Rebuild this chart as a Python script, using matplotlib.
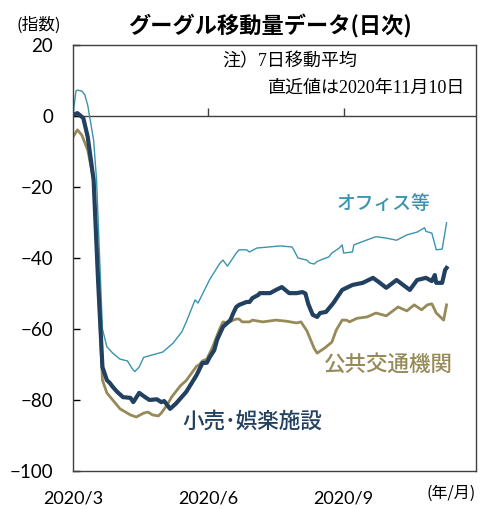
import numpy as np
import pandas as pd
import matplotlib
matplotlib.use("Agg")
import matplotlib.pyplot as plt

plt.rcParams['font.family'] = ['Lato', 'Noto Sans CJK JP', 'DejaVu Sans']

# days since 2020-03-01, 7-day moving average of the mobility index
office_days = [0, 2, 3, 6, 8, 10, 14, 16, 20, 23, 27, 32, 37, 40, 42, 45, 48, 54, 61, 68, 74, 77,
               83, 85, 93, 100, 102, 105, 111, 113, 118, 120, 125, 141, 149, 153, 159, 161, 164,
               166, 170, 174, 176, 181, 183, 184, 190, 191, 200, 206, 213, 220, 227, 234, 239,
               240, 244, 247, 251, 254]
office = [0.5, 7.0, 7.3, 7.0, 6.0, 3.0, -6.8, -18.0, -60.0, -65.0, -66.8, -68.5, -69.0, -71.0,
          -72.0, -70.7, -68.0, -67.3, -66.5, -64.0, -60.8, -58.0, -51.8, -52.7, -46.0, -41.4,
          -40.6, -42.3, -38.6, -37.7, -37.7, -38.3, -37.2, -36.6, -36.9, -40.0, -40.6, -41.4,
          -41.7, -41.0, -40.3, -39.7, -38.6, -37.2, -36.3, -38.6, -38.3, -36.3, -34.9, -34.0,
          -34.4, -35.0, -33.5, -32.7, -31.5, -32.5, -33.0, -37.7, -37.5, -30.1]

retail_days = [0, 3, 7, 10, 14, 17, 20, 23, 25, 27, 30, 34, 39, 41, 45, 49, 52, 57, 60, 62, 66,
               70, 77, 84, 88, 91, 93, 96, 98, 102, 107, 109, 111, 113, 118, 120, 122, 126, 127,
               134, 138, 142, 147, 152, 156, 158, 160, 163, 166, 168, 172, 177, 183, 190, 197,
               204, 208, 213, 220, 229, 234, 240, 244, 246, 247, 251, 253, 254]
retail = [0.3, 0.8, -0.6, -5.9, -18.0, -46.0, -70.7, -74.4, -75.2, -76.3, -77.7, -79.2, -79.4,
          -80.6, -78.0, -79.2, -80.0, -79.8, -80.6, -80.3, -82.5, -81.0, -77.7, -73.0, -69.6,
          -69.5, -67.9, -66.0, -63.0, -59.4, -57.5, -55.5, -53.8, -53.2, -52.4, -52.4, -51.3,
          -50.4, -49.9, -49.9, -49.0, -48.2, -49.9, -49.9, -49.6, -50.0, -53.0, -56.0, -56.6,
          -55.5, -55.2, -52.7, -49.0, -47.6, -47.0, -45.6, -46.8, -48.4, -46.2, -49.0, -46.2,
          -45.6, -46.5, -44.8, -47.0, -47.0, -43.4, -42.8]

transit_days = [0, 3, 6, 10, 14, 17, 20, 23, 25, 27, 32, 39, 43, 48, 51, 54, 58, 60, 64, 67, 73,
                77, 80, 84, 86, 88, 91, 95, 100, 102, 105, 109, 111, 113, 115, 120, 122, 129, 138,
                145, 152, 155, 159, 162, 164, 166, 171, 176, 179, 183, 186, 188, 193, 200, 206,
                213, 221, 227, 232, 237, 241, 244, 247, 252, 254]
transit = [-5.9, -3.9, -5.4, -9.6, -18.0, -46.0, -74.4, -78.0, -79.0, -80.0, -82.5, -84.2, -84.8,
           -83.7, -83.4, -84.2, -84.5, -83.7, -81.4, -79.2, -76.0, -74.5, -72.8, -70.5, -70.0,
           -69.0, -68.5, -65.0, -59.7, -58.0, -58.3, -57.5, -57.2, -57.2, -58.0, -58.0, -57.5,
           -58.0, -57.5, -57.8, -58.3, -58.0, -60.5, -63.5, -65.5, -66.8, -65.4, -63.7, -60.3,
           -57.5, -57.5, -58.0, -57.0, -56.6, -55.5, -56.3, -53.8, -54.9, -53.2, -54.6, -53.2,
           -52.9, -55.5, -57.5, -53.2]

start = pd.Timestamp('2020-03-01')
tick_dates = pd.to_datetime(['2020-03-01', '2020-06-01', '2020-09-01'])
tick_labels = ['2020/3', '2020/6', '2020/9']

c_office = '#3a94ad'
c_retail = '#22405f'
c_transit = '#968a58'

jp = ['Noto Sans CJK JP']
jp_serif = ['Liberation Serif', 'Noto Sans CJK JP']


def to_dates(days):
    return start + pd.to_timedelta(days, unit='D')


fig = plt.figure(figsize=(4.82, 5.09), dpi=100)
ax = fig.add_axes([0.1515, 0.0747, 0.836, 0.8369])

ax.plot(to_dates(office_days), office, color=c_office, lw=1.0)
ax.plot(to_dates(transit_days), transit, color=c_transit, lw=2.0)
ax.plot(to_dates(retail_days), retail, color=c_retail, lw=3.0)

ax.set_ylim(-100, 20)
ax.set_xlim(start, pd.Timestamp('2020-11-30'))
ax.set_yticks(np.arange(-100, 21, 20))
ax.tick_params(axis='y', direction='in', length=5, width=1, pad=14.5, labelsize=13.5)
ax.set_xticks(tick_dates)
ax.set_xticklabels(tick_labels)
ax.tick_params(axis='x', length=0, pad=14, labelsize=13)
for s in ax.spines.values():
    s.set_color('#404040')
    s.set_linewidth(1.0)

# zero line with upward tick marks, as in the original chart
ax.axhline(0, color='#404040', lw=1.0, zorder=1)
ax.vlines(tick_dates, 0, 2.3, color='#404040', lw=1.0)

fig.text(0.56, 0.949, 'グーグル移動量データ(日次)', ha='center', va='center',
         fontsize=16, fontweight='bold', family=jp)
fig.text(0.081, 0.951, '(指数)', ha='center', va='center', fontsize=12, family=jp)
fig.text(0.935, 0.031, '(年/月)', ha='center', va='center', fontsize=11.5, family=jp)

ax.text(0.37, 0.96, '注）7日移動平均', transform=ax.transAxes, ha='left', va='center',
        fontsize=13, family=jp_serif)
ax.text(0.973, 0.899, '直近値は2020年11月10日', transform=ax.transAxes, ha='right', va='center',
        fontsize=13, family=jp_serif)

ax.text(0.77, 0.628, 'オフィス等', transform=ax.transAxes, ha='center', va='center',
        fontsize=13.5, color=c_office, family=jp, fontweight='medium')
ax.text(0.782, 0.249, '公共交通機関', transform=ax.transAxes, ha='center', va='center',
        fontsize=15.5, color=c_transit, family=jp, fontweight='medium')
ax.text(0.445, 0.115, '小売･娯楽施設', transform=ax.transAxes, ha='center', va='center',
        fontsize=15.5, color=c_retail, family=jp, fontweight='medium')

fig.savefig('out.png', dpi=100)
plt.close(fig)
